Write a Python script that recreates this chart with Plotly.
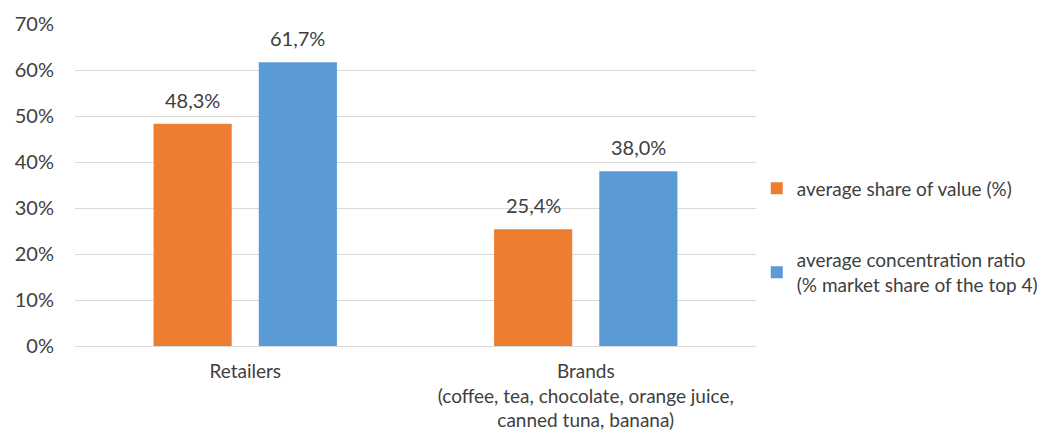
import plotly.graph_objects as go

categories = ["Retailers", "Brands<br>(coffee, tea, chocolate, orange juice,<br>canned tuna, banana)"]
share_of_value = [0.483, 0.254]
concentration_ratio = [0.617, 0.380]
series_names = [
    "average share of value (%)",
    "average concentration ratio<br>(% market share of the top 4)",
]
y_ticks = [0, 0.1, 0.2, 0.3, 0.4, 0.5, 0.6, 0.7]

ORANGE = "#ED7D31"
BLUE = "#5B9BD5"
TEXT = "#404040"
GRID = "#D9D9D9"
FONT = "Lato"
SIZE = 20

fig = go.Figure()
for name, vals, color, grp in [
    (series_names[0], share_of_value, ORANGE, "a"),
    (series_names[1], concentration_ratio, BLUE, "b"),
]:
    fig.add_trace(go.Bar(
        x=categories, y=vals, name=name, legendgroup=grp,
        marker=dict(color=color, line=dict(width=0)),
    ))

# value labels above each bar
offsets = [-52.5, 52.5]
for vals, dx in [(share_of_value, offsets[0]), (concentration_ratio, offsets[1])]:
    for cat, v in zip(categories, vals):
        fig.add_annotation(
            x=cat, y=v, xshift=dx, yshift=24, showarrow=False,
            text=f"{v * 100:.1f}%".replace(".", ","),
            font=dict(family=FONT, size=SIZE, color=TEXT),
        )

fig.update_layout(
    width=1046, height=434,
    margin=dict(l=75, r=290, t=24, b=88),
    paper_bgcolor="white", plot_bgcolor="white",
    barmode="group", bargap=0.382, bargroupgap=0.257,
    separators=", ",
    font=dict(family=FONT, size=SIZE, color=TEXT),
    showlegend=True,
    legend=dict(
        xref="container", yref="container",
        x=0.7235, xanchor="left", y=0.454, yanchor="middle",
        tracegroupgap=44, traceorder="grouped",
        font=dict(family=FONT, size=19, color=TEXT),
        itemclick=False, bgcolor="rgba(0,0,0,0)",
    ),
)
fig.update_xaxes(
    showgrid=False, showline=True, linecolor=GRID, linewidth=1.3,
    ticks="", ticklabelstandoff=8, automargin=False,
    tickfont=dict(family=FONT, size=19, color=TEXT),
)
fig.update_yaxes(
    range=[0, 0.7], tickvals=y_ticks, tickformat=".0%",
    showgrid=True, gridcolor=GRID, gridwidth=1.3,
    zeroline=False, showline=False, ticks="", ticklabelstandoff=20,
    automargin=False,
    tickfont=dict(family=FONT, size=SIZE, color=TEXT),
)

fig.write_html("out.html")
